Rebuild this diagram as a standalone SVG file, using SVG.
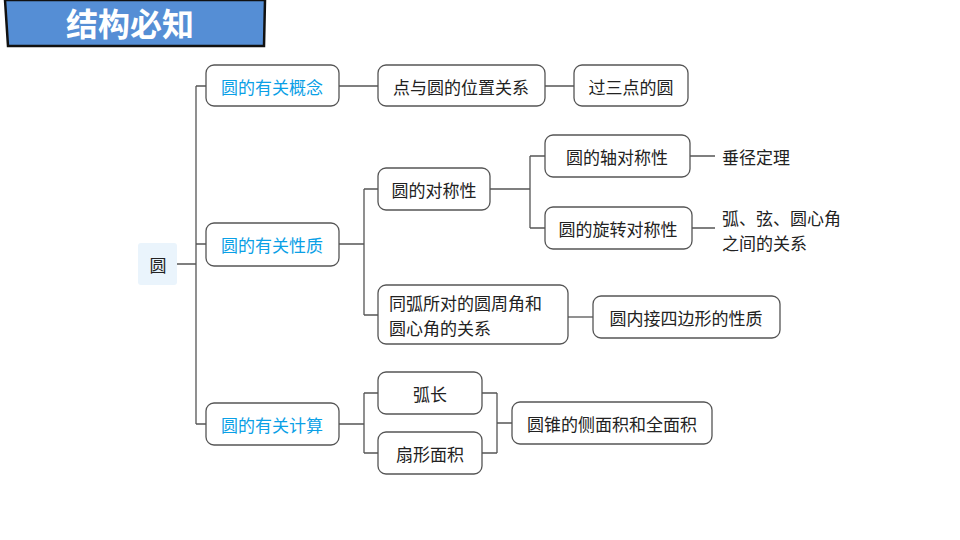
<svg xmlns="http://www.w3.org/2000/svg" width="960" height="540" viewBox="0 0 960 540">
<style>
.b{fill:#fff;stroke:#555;stroke-width:1.3}
.t{font-family:"Noto Sans CJK SC","Noto Sans",sans-serif;font-size:17px;fill:#222;text-anchor:middle;dominant-baseline:central}
.l{text-anchor:start}
.c{fill:#0aa0e6}
#conn path{fill:none;stroke:#555;stroke-width:1.3}
</style>
<rect width="960" height="540" fill="#fff"/>
<g id="title">
<polygon points="5,0 265,0 264,46 8,46" fill="#558ed5" stroke="#111" stroke-width="2.5"/>
<text x="130" y="22" class="t" style="font-size:32px;font-weight:bold;fill:#fff">结构必知</text>
</g>
<g id="conn">
<path d="M177,264H196M196,86V424M196,86H206M196,244H206M196,424H206"/>
<path d="M339,86H378M545,86H574"/>
<path d="M339,244H364M364,189V315M364,189H378M364,315H378"/>
<path d="M490,189H530M530,156V228M530,156H545M530,228H545M690,156H715M692,228H715"/>
<path d="M568,317H593"/>
<path d="M339,424H364M364,393V453M364,393H378M364,453H378M482,393H497M482,453H497M497,393V453M497,423H512"/>
</g>
<g id="root"><rect x="138" y="243" width="39" height="42" rx="3" fill="#eaf4fc"/><text x="158" y="264" class="t">圆</text></g>
<g id="n1"><rect class="b" x="206" y="65" width="133" height="41" rx="8"/><text x="272" y="86" class="t c">圆的有关概念</text></g>
<g id="n2"><rect class="b" x="206" y="223" width="133" height="43" rx="8"/><text x="272" y="244" class="t c">圆的有关性质</text></g>
<g id="n3"><rect class="b" x="206" y="403" width="133" height="42" rx="8"/><text x="272" y="424" class="t c">圆的有关计算</text></g>
<g id="n4"><rect class="b" x="378" y="65" width="167" height="41" rx="8"/><text x="461" y="86" class="t">点与圆的位置关系</text></g>
<g id="n5"><rect class="b" x="574" y="65" width="114" height="41" rx="8"/><text x="631" y="86" class="t">过三点的圆</text></g>
<g id="n6"><rect class="b" x="378" y="168" width="112" height="42" rx="8"/><text x="434" y="189" class="t">圆的对称性</text></g>
<g id="n7"><rect class="b" x="545" y="135" width="145" height="42" rx="8"/><text x="617" y="156" class="t">圆的轴对称性</text></g>
<g id="n8"><rect class="b" x="545" y="207" width="147" height="42" rx="8"/><text x="618" y="228" class="t">圆的旋转对称性</text></g>
<g id="n9"><text x="722" y="156" class="t l">垂径定理</text></g>
<g id="n10"><text x="722" y="217" class="t l">弧、弦、圆心角</text><text x="722" y="242" class="t l">之间的关系</text></g>
<g id="n11"><rect class="b" x="378" y="285" width="190" height="59" rx="8"/><text x="389" y="302" class="t l">同弧所对的圆周角和</text><text x="389" y="327" class="t l">圆心角的关系</text></g>
<g id="n12"><rect class="b" x="593" y="296" width="187" height="42" rx="8"/><text x="686" y="317" class="t">圆内接四边形的性质</text></g>
<g id="n13"><rect class="b" x="378" y="372" width="104" height="42" rx="8"/><text x="430" y="393" class="t">弧长</text></g>
<g id="n14"><rect class="b" x="378" y="432" width="104" height="42" rx="8"/><text x="430" y="453" class="t">扇形面积</text></g>
<g id="n15"><rect class="b" x="512" y="402" width="200" height="42" rx="8"/><text x="612" y="423" class="t">圆锥的侧面积和全面积</text></g>
</svg>
